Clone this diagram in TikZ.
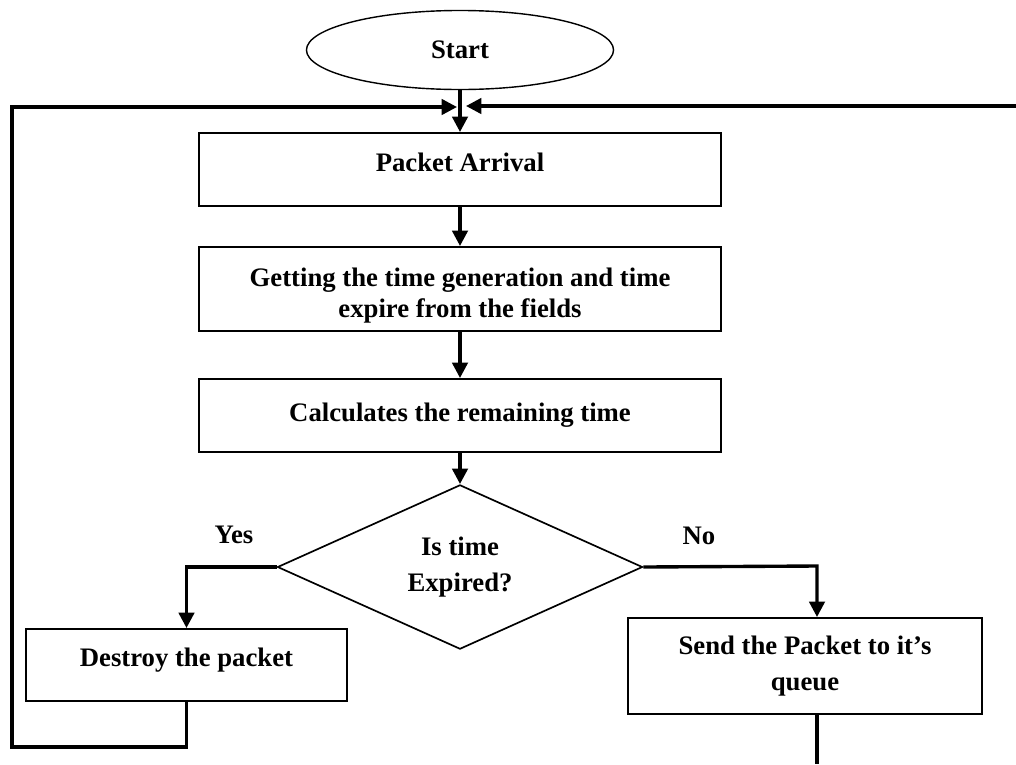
\documentclass[tikz,border=0pt]{standalone}
\usepackage{fontspec}
\setmainfont{Liberation Serif}
\usepackage{tikz}
\usetikzlibrary{shapes,arrows.meta}
\tikzset{ell/.style={ellipse,draw,line width=1pt,minimum width=7.675cm,minimum height=1.975cm,inner sep=0pt},
         proc/.style={rectangle,draw,line width=1.4pt,minimum width=13.05cm,minimum height=1.825cm,align=center,inner sep=0pt},
         dec/.style={diamond,draw,line width=1.2pt,minimum width=9.125cm,minimum height=4.025cm,align=center,inner sep=0pt},
         flow/.style={line width=2.4pt,->}}

\begin{document}
\begin{tikzpicture}[x=0.025cm,y=-0.025cm,>={Triangle[length=11pt,width=11pt]},
    every node/.style={font=\bfseries\fontsize{19}{25}\selectfont}]
    \useasboundingbox (0,0) rectangle (1016,764);
    \node[ell] (start) at (460,50) {Start};
    \node[proc,text depth=11pt] (arrival) at (460,169.5) {Packet Arrival};
    \node[proc,minimum height=2.1cm,font=\bfseries\fontsize{19}{22}\selectfont,text depth=1pt] (fields) at (460,289) {\rule{0pt}{20pt}Getting the time generation and time\\expire from the fields};
    \node[proc] (remain) at (460,415.5) {Calculates the remaining time};
    \node[dec] (expired) at (460,567) {Is time\\Expired?};
    \node[proc,minimum width=8.025cm,minimum height=1.8cm,text depth=11pt] (destroy) at (186.5,665) {Destroy the packet};
    \node[proc,minimum width=8.85cm,minimum height=2.4cm] (send) at (805,666) {Send the Packet to it's\\queue};
    \node (yes) at (234,535) {Yes};
    \node (no) at (699,536) {No};

    \coordinate (loopB) at (12,747);
    \coordinate (loopT) at (12,107);
    \coordinate (joinL) at (457,107);
    \coordinate (joinR) at (466,106);
    \coordinate (edgeR) at (1016,106);
    \coordinate (noTurn) at (817,566);
    \coordinate (outB) at (817,764);

    \draw[flow] (start) -- (arrival);
    \draw[flow] (arrival) -- (fields);
    \draw[flow] (fields) -- (remain);
    \draw[flow] (remain) -- (expired);
    \draw[flow] (expired.west) -| (destroy);
    \draw[flow] (expired.east) -- (noTurn) -- (noTurn |- send.north);
    \draw[flow] (destroy.south) |- (loopB) -- (loopT) -- (joinL);
    \draw[flow] (edgeR) -- (joinR);
    \draw[line width=2.4pt] (noTurn |- send.south) -- (outB);
\end{tikzpicture}
\end{document}
